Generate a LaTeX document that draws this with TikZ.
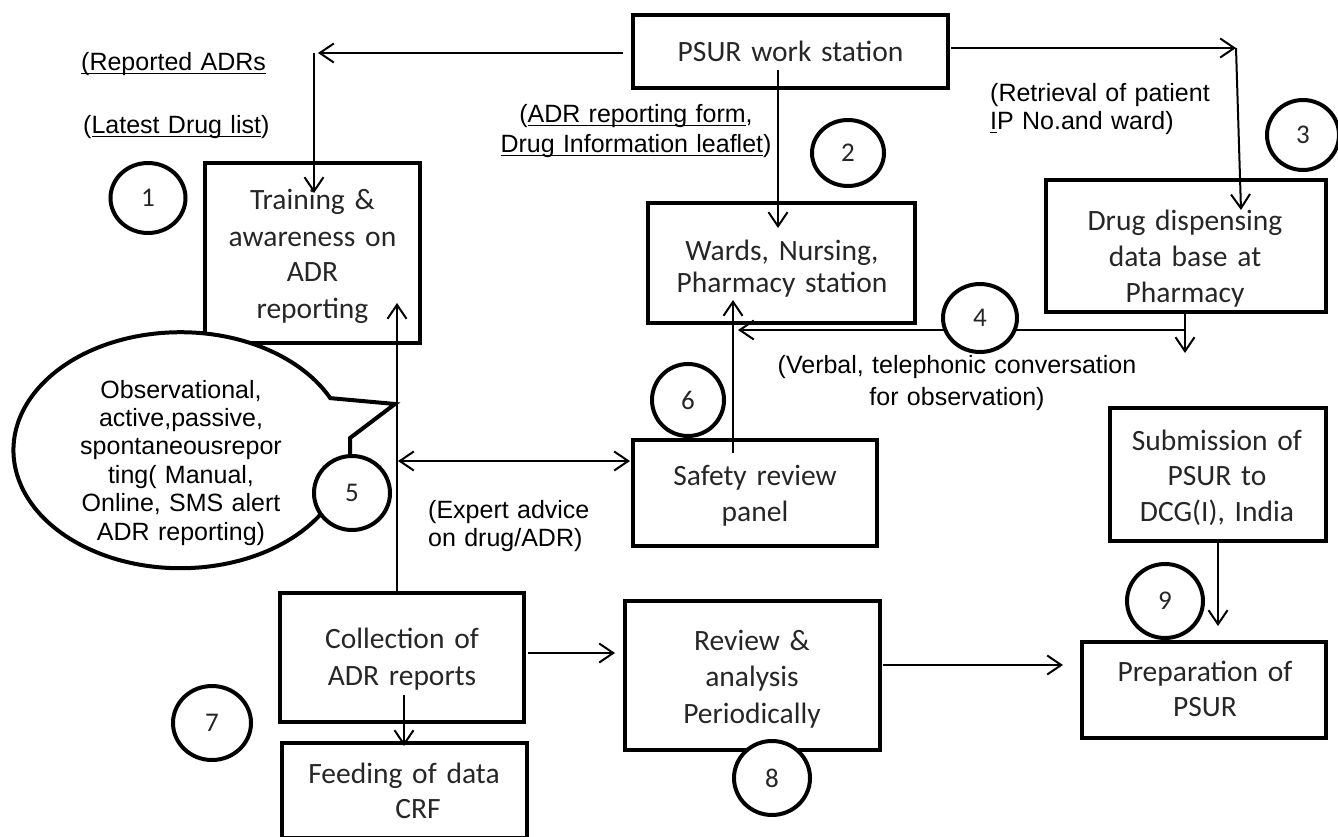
\documentclass[tikz,border=0pt]{standalone}
\usepackage{fontspec}
\setmainfont{Carlito}
\newfontfamily\arialf{Liberation Sans}
\usetikzlibrary{arrows.meta,shapes.geometric}
\newcommand\myul[1]{\leavevmode\setbox0\hbox{#1}\rlap{\rule[-3.2pt]{\wd0}{1.4pt}}\box0}
\begin{document}
\begin{tikzpicture}[x=1pt,y=-1pt,
  box/.style={draw, rectangle, line width=4.5pt, inner sep=0pt},
  btxt/.style={text width=330pt, align=center, anchor=base, inner sep=0pt,
    text=black!85, font=\fontsize{29.5}{36}\selectfont},
  lblc/.style={text width=420pt, align=center, anchor=base, inner sep=0pt,
    font=\arialf\fontsize{25}{30}\selectfont},
  lbll/.style={text width=300pt, align=left, anchor=base west, inner sep=0pt,
    font=\arialf\fontsize{25}{30}\selectfont},
  num/.style={ellipse, draw, line width=4pt, fill=white, inner sep=0pt,
    text=black!85, font=\fontsize{27}{27}\selectfont},
  arr/.style={line width=2pt, -{Straight Barb[length=14pt,width=19pt]}},
  arrb/.style={line width=2pt, {Straight Barb[length=14pt,width=19pt]}-{Straight Barb[length=14pt,width=19pt]}},
  bubble/.style={draw, line width=4pt, fill=white}]
\useasboundingbox (0,0) rectangle (1338,837);

% boxes
\node[box, minimum width=315pt, minimum height=73pt] (psur) at (790.5,51.5) {};
\node[box, minimum width=215pt, minimum height=180pt] (train) at (312.5,253) {};
\node[box, minimum width=267pt, minimum height=120pt] (wards) at (781.5,263) {};
\node[box, minimum width=280pt, minimum height=132pt] (drug) at (1186,246) {};
\node[box, minimum width=244pt, minimum height=106pt] (safety) at (755,493) {};
\node[box, minimum width=216pt, minimum height=133pt] (subm) at (1218,474.5) {};
\node[box, minimum width=244pt, minimum height=129pt] (coll) at (402,657.5) {};
\node[box, minimum width=255pt, minimum height=149pt] (review) at (752.5,675.5) {};
\node[box, minimum width=244pt, minimum height=96pt] (prep) at (1204,690) {};
\node[box, minimum width=245pt, minimum height=95pt] (feed) at (404.5,790.5) {};

% speech bubble (drawn over the training box corner)
\path[bubble] (320,515) arc[start angle=33.3, end angle=333.8, x radius=167, y radius=118]
  -- (395,404) -- (350,438) -- (350,456) -- cycle;
\node[text width=300pt, align=center, anchor=base, inner sep=0pt,
  font=\arialf\fontsize{25}{28.4}\selectfont] (bubT) at (181,398)
  {Observational,\\active,passive,\\spontaneousrepor\\ting( Manual,\\Online, SMS alert\\ADR reporting)};

% box texts
\node[btxt] (psurT) at (790.5,62) {PSUR work station};
\node[btxt] (trainT) at (312.5,210) {Training \&\\awareness on\\ADR\\reporting};
\node[btxt, font=\fontsize{29.5}{32}\selectfont] (wardsT) at (782,260) {Wards, Nursing,\\Pharmacy station};
\node[btxt] (drugT) at (1185,230) {Drug dispensing\\data base at\\Pharmacy};
\node[btxt] (safetyT) at (755,485) {Safety review\\panel};
\node[btxt, font=\fontsize{29.5}{35.5}\selectfont] (submT) at (1217,450) {Submission of\\PSUR to\\DCG(I), India};
\node[btxt, font=\fontsize{29.5}{37}\selectfont] (collT) at (402,648) {Collection of\\ADR reports};
\node[btxt, font=\fontsize{29.5}{36.5}\selectfont] (reviewT) at (752,650) {Review \&\\analysis\\Periodically};
\node[btxt, font=\fontsize{29.5}{35}\selectfont] (prepT) at (1205,681) {Preparation of\\PSUR};
\node[btxt, font=\fontsize{29.5}{35}\selectfont] (feedT) at (404,783) {Feeding of data\\\hspace*{28pt}CRF};

% labels
\node[lbll] (repL) at (81,71) {\myul{(Reported ADRs}};
\node[lbll] (latL) at (83,134) {(\myul{Latest Drug list})};
\node[lblc] (formL) at (636,123) {(\myul{ADR reporting form},\\\myul{Drug Information leaflet})};
\node[lbll, font=\arialf\fontsize{25}{28}\selectfont] (retL) at (990,102) {(Retrieval of patient\\\myul{I}P No.and ward)};
\node[lblc, font=\arialf\fontsize{25}{32}\selectfont] (verL) at (957,373) {(Verbal, telephonic conversation\\for observation)};
\node[lbll, font=\arialf\fontsize{25}{28}\selectfont] (expL) at (428,518) {(Expert advice\\on drug/ADR)};

% connectors
\coordinate (a1s) at (623,53); \coordinate (a1c) at (318,53);
\coordinate (a1v) at (314,53); \coordinate (a1e) at (314,193);
\draw[arr] (a1s) -- (a1c);
\draw[arr] (a1v) -- (a1e);

\coordinate (a2s) at (778,70); \coordinate (a2e) at (778,228);
\draw[arr] (a2s) -- (a2e);

\coordinate (a3s) at (951,48); \coordinate (a3c) at (1236,48); \coordinate (a3e) at (1241,210);
\draw[arr] (a3s) -- (a3c);
\draw[arr] (a3c) -- (a3e);

\coordinate (a4c) at (1185,330); \coordinate (a4d) at (1185,353); \coordinate (a4e) at (738,330);
\draw[arr] (drug.south -| a4c) -- (a4d);
\draw[arr] (a4c) -- (a4e);

\coordinate (a6s) at (733,453); \coordinate (a6e) at (733,300);
\draw[arr] (a6s) -- (a6e);

\coordinate (a7e) at (397,303);
\draw[arr] (coll.north -| a7e) -- (a7e);

\coordinate (a8l) at (398,461); \coordinate (a8r) at (630,461);
\draw[arrb] (a8l) -- (a8r);

\coordinate (a9s) at (528,653); \coordinate (a9e) at (615,653);
\draw[arr] (a9s) -- (a9e);

\coordinate (a10s) at (404,695); \coordinate (a10e) at (404,746);
\draw[arr] (a10s) -- (a10e);

\coordinate (a11s) at (883,665); \coordinate (a11e) at (1063,665);
\draw[arr] (a11s) -- (a11e);

\coordinate (a12e) at (1218,626);
\draw[arr] (subm.south -| a12e) -- (a12e);

% numbered circles
\node[num, minimum width=75pt, minimum height=70pt] (c1) at (148,198) {1};
\node[num, minimum width=72pt, minimum height=66pt] (c2) at (848,153) {2};
\node[num, minimum width=72pt, minimum height=70pt] (c3) at (1303,135) {3};
\node[num, minimum width=74pt, minimum height=68pt] (c4) at (980,318) {4};
\node[num, minimum width=76pt, minimum height=74pt] (c5) at (352,493) {5};
\node[num, minimum width=72pt, minimum height=72pt] (c6) at (688,400) {6};
\node[num, minimum width=78pt, minimum height=74pt] (c7) at (212,723) {7};
\node[num, minimum width=76pt, minimum height=74pt] (c8) at (772,778) {8};
\node[num, minimum width=76pt, minimum height=74pt] (c9) at (1165,601) {9};
\end{tikzpicture}
\end{document}
